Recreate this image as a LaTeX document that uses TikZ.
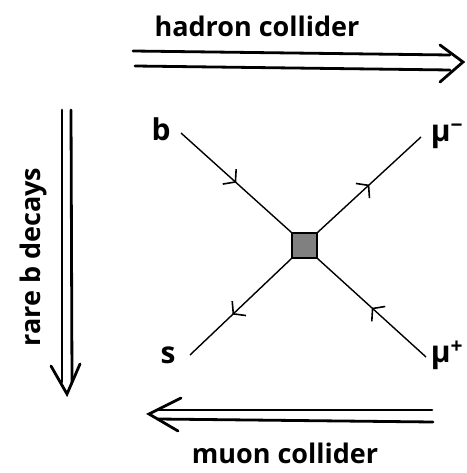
\documentclass[tikz,border=0pt]{standalone}
\usepackage{fontspec}
\setmainfont{Open Sans}
\usetikzlibrary{arrows.meta,decorations.markings}
\tikzset{
  lbl/.style={font=\fontsize{27}{29}\selectfont\bfseries, inner sep=0pt, anchor=base},
  plbl/.style={font=\fontsize{30}{32}\selectfont\bfseries, inner sep=0pt},
  fermion/.style={line width=1.4pt, postaction={decorate},
    decoration={markings, mark=at position #1 with {\arrow{Straight Barb[length=8pt,width=20pt,line width=1.6pt]}}}},
  fermion/.default=0.5,
  rail/.style={line width=2.8pt, line cap=round},
  chev/.style={line width=2.8pt, line cap=round, line join=miter},
  vertex/.style={rectangle, draw=black, line width=1.3pt, fill=black!50, minimum size=25pt, inner sep=0pt}
}
\begin{document}
\begin{tikzpicture}[x=1pt,y=-1pt]
\useasboundingbox (0,0) rectangle (466,473);
% vertex
\node[vertex] (v) at (304.5,245.5) {};
% labels
\node[plbl] (b) at (161,129) {b};
\node[plbl] (s) at (168,355) {s};
\node[plbl] (mum) at (447,136) {μ\textsuperscript{−}};
\node[plbl] (mup) at (447,355) {μ\textsuperscript{+}};
% line ends
\coordinate (be) at (181,133);
\coordinate (se) at (190,355);
\coordinate (me) at (421,137);
\coordinate (pe) at (426,357);
\draw[fermion=0.5] (be) -- (v.north west);
\draw[fermion=0.5] (v.north east) -- (me);
\draw[fermion=0.58] (v.south west) -- (se);
\draw[fermion=0.5] (pe) -- (v.south east);
% top double arrow
\coordinate (t1a) at (133,51); \coordinate (t1b) at (450,55);
\coordinate (t2a) at (135,66); \coordinate (t2b) at (450,70);
\coordinate (th) at (463,62);
\draw[rail] (t1a) -- (t1b);
\draw[rail] (t2a) -- (t2b);
\draw[chev] (440,45) -- (th) -- (440,82);
\node[lbl] (hc) at (257,37) {hadron collider};
% left double arrow
\coordinate (l1a) at (62,110); \coordinate (l1b) at (62,382);
\coordinate (l2a) at (71,110); \coordinate (l2b) at (72,382);
\coordinate (lh) at (67,394);
\draw[rail] (l1a) -- (l1b);
\draw[rail] (l2a) -- (l2b);
\draw[chev] (51,366) -- (lh) -- (80,364);
\node[lbl, rotate=90] (rb) at (40,257) {rare b decays};
% bottom double arrow
\coordinate (b1a) at (432,410); \coordinate (b1b) at (158,410);
\coordinate (b2a) at (433,422); \coordinate (b2b) at (158,419);
\coordinate (bh) at (149,414);
\draw[rail] (b1a) -- (b1b);
\draw[rail] (b2a) -- (b2b);
\draw[chev] (181,398) -- (bh) -- (178,431);
\node[lbl] (mc) at (285,463) {muon collider};
\end{tikzpicture}
\end{document}
